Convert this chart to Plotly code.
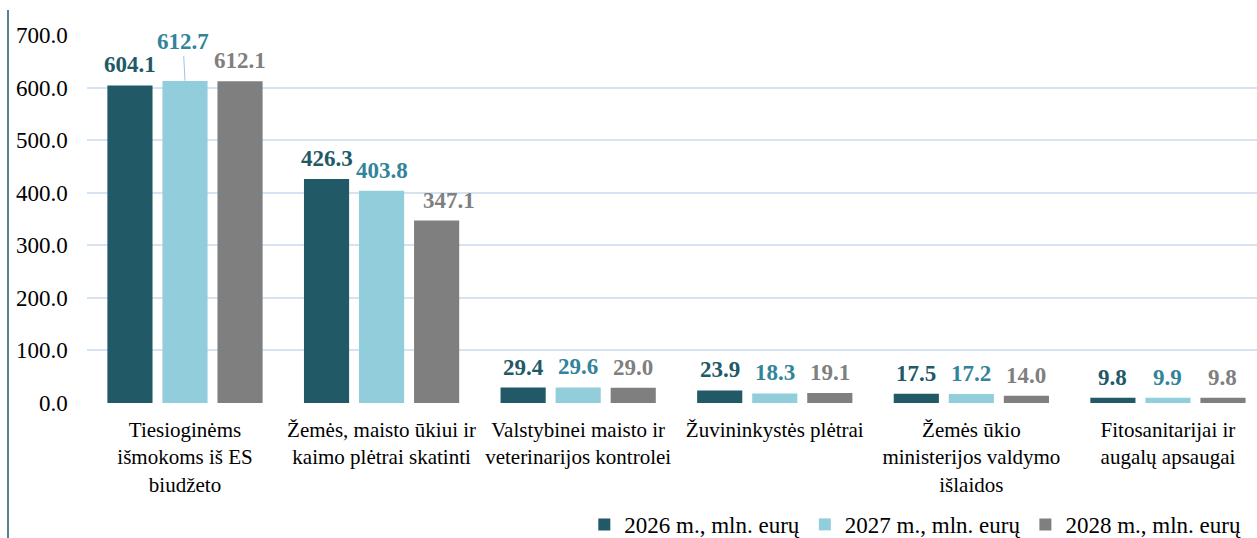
import plotly.graph_objects as go

categories = [
    "Tiesioginėms<br>išmokoms iš ES<br>biudžeto",
    "Žemės, maisto ūkiui ir<br>kaimo plėtrai skatinti",
    "Valstybinei maisto ir<br>veterinarijos kontrolei",
    "Žuvininkystės plėtrai",
    "Žemės ūkio<br>ministerijos valdymo<br>išlaidos",
    "Fitosanitarijai ir<br>augalų apsaugai",
]
series_names = ["2026 m., mln. eurų", "2027 m., mln. eurų", "2028 m., mln. eurų"]
v2026 = [604.1, 426.3, 29.4, 23.9, 17.5, 9.8]
v2027 = [612.7, 403.8, 29.6, 18.3, 17.2, 9.9]
v2028 = [612.1, 347.1, 29.0, 19.1, 14.0, 9.8]
tick_vals = [0, 100, 200, 300, 400, 500, 600, 700]

bar_colors = ["#215967", "#92CDDC", "#7F7F7F"]
label_colors = ["#215967", "#31849B", "#7F7F7F"]
FONT = "Times New Roman"

fig = go.Figure()
all_vals = [v2026, v2027, v2028]
for name, vals, col in zip(series_names, all_vals, bar_colors):
    fig.add_trace(go.Bar(x=categories, y=vals, name=name, marker_color=col,
                         marker_line_width=0))

slot = 55
annotations = []
for si, vals in enumerate(all_vals):
    for ci, v in enumerate(vals):
        a = dict(x=categories[ci], y=v, xref="x", yref="y", text=f"<b>{v:.1f}</b>",
                 font=dict(family=FONT, size=23, color=label_colors[si]),
                 xshift=(si - 1) * slot, showarrow=False, yanchor="bottom", yshift=6)
        if si == 1 and ci == 0:
            a.update(showarrow=True, arrowhead=0, arrowwidth=1, arrowcolor="#9DC3E6",
                     ax=-2, ay=-39, yanchor="middle", yshift=0, standoff=0)
            a["xshift"] = 0
        if si == 2 and ci == 1:
            a["xshift"] = (si - 1) * slot + 12
        annotations.append(a)

fig.add_shape(type="line", xref="paper", yref="paper", x0=8/1257, x1=8/1257,
              y0=-0.367, y1=1.068, line=dict(color="#215967", width=1.5))

fig.update_layout(
    width=1257, height=538,
    margin=dict(l=0, r=0, t=35, b=135, autoexpand=False),
    paper_bgcolor="white", plot_bgcolor="white",
    barmode="group", bargap=0.16, bargroupgap=0.18,
    font=dict(family=FONT, size=21, color="#000000"),
    annotations=annotations,
    xaxis=dict(domain=[86.7/1257, 1], range=[-0.5, 5.453], showline=False, showgrid=False,
               ticks="", automargin=False, ticklabelstandoff=12,
               tickfont=dict(family=FONT, size=21, color="#000000")),
    yaxis=dict(range=[0, 700], tickvals=tick_vals, ticktext=[f"{t:.1f}" for t in tick_vals],
               showgrid=True, gridcolor="#D6E3F3", gridwidth=1.5, zeroline=False,
               showline=False, automargin=False, ticklabelstandoff=18,
               tickfont=dict(family=FONT, size=23, color="#000000")),
    legend=dict(orientation="h", x=0.9915, xanchor="right", y=-0.33, yanchor="middle",
                font=dict(family=FONT, size=23, color="#000000"),
                itemwidth=30, traceorder="normal"),
)

fig.write_html("out.html", config={"displayModeBar": False},
               post_script="document.body.style.margin='0';document.body.style.overflow='hidden';")
